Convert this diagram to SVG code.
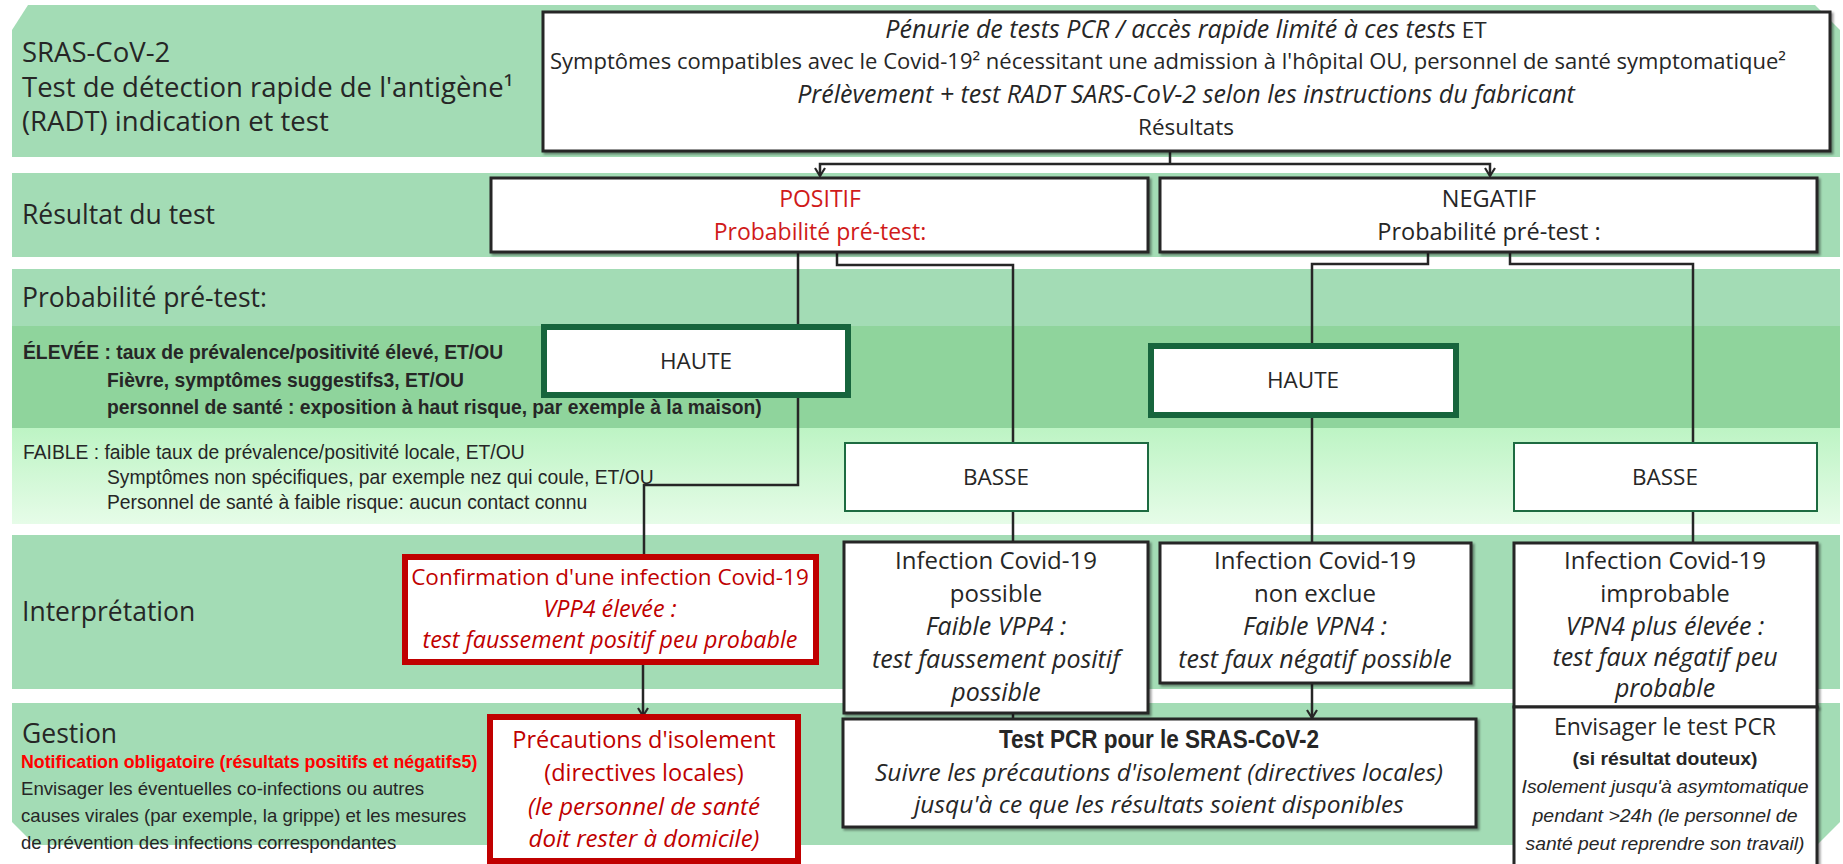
<svg xmlns="http://www.w3.org/2000/svg" width="1843" height="864" viewBox="0 0 1843 864">
<style>
.band{fill:#a3dcb5}
.lbl{font-family:"Open Sans",sans-serif;font-size:26.5px;fill:#262626}
.t{font-family:"Open Sans",sans-serif;font-size:22.5px;fill:#262626;text-anchor:middle}
.b24{font-size:24px}
.i25{font-size:25px}
.it{font-style:italic}
.red{fill:#c00000}
.box{fill:#fff;stroke:#262626;stroke-width:3;filter:url(#sh)}
.haute{fill:#fff;stroke:#17653d;stroke-width:6}
.basse{fill:#fff;stroke:#1d6b41;stroke-width:2}
.rbox{fill:#fff;stroke:#c00000;stroke-width:6}
.ar{font-family:"Liberation Sans",Arial,sans-serif;fill:#262626}
.conn path{fill:none;stroke:#262626;stroke-width:2.5}
</style>
<defs>
<filter id="sh" x="-5%" y="-5%" width="110%" height="115%">
<feDropShadow dx="2" dy="2" stdDeviation="1" flood-color="#000" flood-opacity="0.4"/>
</filter>
<linearGradient id="gf" x1="0" y1="0" x2="0" y2="1">
<stop offset="0" stop-color="#bdf4c4"/>
<stop offset="1" stop-color="#e6fce8"/>
</linearGradient>
<marker id="arr" markerWidth="14" markerHeight="14" refX="9" refY="6" orient="auto" markerUnits="userSpaceOnUse">
<path d="M1,1 L9,6 L1,11" fill="none" stroke="#262626" stroke-width="2.2"/>
</marker>
</defs>

<g id="bands">
<polygon class="band" points="12,30 28,5 1815,5 1840,30 1840,157 12,157"/>
<rect class="band" x="12" y="173" width="1828" height="84"/>
<rect class="band" x="12" y="269" width="1828" height="57"/>
<rect x="12" y="326" width="1828" height="102" fill="#8fd49c"/>
<rect x="12" y="428" width="1828" height="96" fill="url(#gf)"/>
<rect class="band" x="12" y="535" width="1828" height="154"/>
<polygon class="band" points="12,703 1840,703 1840,822 1817,845 35,845 12,822"/>
</g>

<g id="labels">
<text class="lbl" x="22" y="62" style="font-size:27.5px">SRAS-CoV-2</text>
<text class="lbl" x="22" y="97" style="font-size:27.5px">Test de détection rapide de l'antigène¹</text>
<text class="lbl" x="22" y="131" style="font-size:27.5px">(RADT) indication et test</text>
<text class="lbl" x="22" y="224">Résultat du test</text>
<text class="lbl" x="22" y="307">Probabilité pré-test:</text>
<text class="ar" x="23" y="359" font-size="19.3" font-weight="bold">ÉLEVÉE : taux de prévalence/positivité élevé, ET/OU</text>
<text class="ar" x="107" y="387" font-size="19.3" font-weight="bold">Fièvre, symptômes suggestifs3, ET/OU</text>
<text class="ar" x="107" y="414" font-size="19.3" font-weight="bold">personnel de santé : exposition à haut risque, par exemple à la maison)</text>
<text class="ar" x="23" y="459" font-size="19.3">FAIBLE : faible taux de prévalence/positivité locale, ET/OU</text>
<text class="ar" x="107" y="484" font-size="19.3">Symptômes non spécifiques, par exemple nez qui coule, ET/OU</text>
<text class="ar" x="107" y="509" font-size="19.3">Personnel de santé à faible risque: aucun contact connu</text>
<text class="lbl" x="22" y="621">Interprétation</text>
<text class="lbl" x="22" y="743">Gestion</text>
<text class="ar" x="21" y="768" font-size="17.8" font-weight="bold" style="fill:#ff0000">Notification obligatoire (résultats positifs et négatifs5)</text>
<text class="ar" x="21" y="795" font-size="18.6">Envisager les éventuelles co-infections ou autres</text>
<text class="ar" x="21" y="822" font-size="18.6">causes virales (par exemple, la grippe) et les mesures</text>
<text class="ar" x="21" y="849" font-size="18.6">de prévention des infections correspondantes</text>
</g>

<g class="conn" id="connectors">
<path d="M1170,151 V164"/>
<path d="M1170,164 H820 V176" marker-end="url(#arr)"/>
<path d="M1170,164 H1490 V176" marker-end="url(#arr)"/>
<path d="M798,252 V485 H644 V557"/>
<path d="M837,252 V265 H1013 V542"/>
<path d="M1013,713 V719"/>
<path d="M1428,252 V264 H1312 V543"/>
<path d="M1510,252 V264 H1693 V543"/>
<path d="M643,662 V716" marker-end="url(#arr)"/>
<path d="M1312,683 V718" marker-end="url(#arr)"/>
</g>

<g id="n-top">
<rect class="box" x="543" y="12" width="1287" height="139"/>
<text class="t" x="1186" y="38"><tspan class="it i25">Pénurie de tests PCR / accès rapide limité à ces tests</tspan> ET</text>
<text class="t" x="550" y="69" style="font-size:22px;text-anchor:start">Symptômes compatibles avec le Covid-19² nécessitant une admission à l'hôpital OU, personnel de santé symptomatique²</text>
<text class="t it i25" x="1186" y="103">Prélèvement + test RADT SARS-CoV-2 selon les instructions du fabricant</text>
<text class="t" x="1186" y="135">Résultats</text>
</g>

<g id="n-positif">
<rect class="box" x="491" y="178" width="657" height="74"/>
<text class="t" x="820" y="207" style="fill:#d01a1a;font-size:23px">POSITIF</text>
<text class="t" x="820" y="240" style="fill:#d01a1a;font-size:23px">Probabilité pré-test:</text>
</g>

<g id="n-negatif">
<rect class="box" x="1160" y="178" width="657" height="74"/>
<text class="t" x="1489" y="207" style="font-size:23.5px">NEGATIF</text>
<text class="t" x="1489" y="240" style="font-size:23.5px">Probabilité pré-test :</text>
</g>

<g id="n-haute1">
<rect class="haute" x="544" y="327" width="304" height="68"/>
<text class="t" x="696" y="369">HAUTE</text>
</g>

<g id="n-basse1">
<rect class="basse" x="845" y="443" width="303" height="68"/>
<text class="t" x="996" y="485">BASSE</text>
</g>

<g id="n-haute2">
<rect class="haute" x="1151" y="346" width="305" height="69"/>
<text class="t" x="1303" y="388">HAUTE</text>
</g>

<g id="n-basse2">
<rect class="basse" x="1514" y="443" width="303" height="68"/>
<text class="t" x="1665" y="485">BASSE</text>
</g>

<g id="n-confirmation">
<rect class="rbox" x="405" y="557" width="411" height="105"/>
<text class="t red" x="610" y="585">Confirmation d'une infection Covid-19</text>
<text class="t red it" x="610" y="617" style="font-size:23.3px">VPP4 élevée :</text>
<text class="t red it" x="610" y="648" style="font-size:23.3px">test faussement positif peu probable</text>
</g>

<g id="n-possible">
<rect class="box" x="844" y="542" width="304" height="171"/>
<text class="t b24" x="996" y="569">Infection Covid-19</text>
<text class="t b24" x="996" y="602">possible</text>
<text class="t it i25" x="996" y="635">Faible VPP4 :</text>
<text class="t it i25" x="996" y="668">test faussement positif</text>
<text class="t it i25" x="996" y="701">possible</text>
</g>

<g id="n-nonexclue">
<rect class="box" x="1160" y="543" width="311" height="140"/>
<text class="t b24" x="1315" y="569">Infection Covid-19</text>
<text class="t b24" x="1315" y="602">non exclue</text>
<text class="t it i25" x="1315" y="635">Faible VPN4 :</text>
<text class="t it i25" x="1315" y="668">test faux négatif possible</text>
</g>

<g id="n-improbable">
<rect class="box" x="1514" y="543" width="303" height="164"/>
<text class="t b24" x="1665" y="569">Infection Covid-19</text>
<text class="t b24" x="1665" y="602">improbable</text>
<text class="t it i25" x="1665" y="635">VPN4 plus élevée :</text>
<text class="t it i25" x="1665" y="666">test faux négatif peu</text>
<text class="t it i25" x="1665" y="697">probable</text>
</g>

<g id="n-precautions">
<rect class="rbox" x="490" y="717" width="308" height="144"/>
<text class="t red" x="644" y="748" style="font-size:23.5px">Précautions d'isolement</text>
<text class="t red" x="644" y="781" style="font-size:23.5px">(directives locales)</text>
<text class="t red it" x="644" y="815" style="font-size:24px">(le personnel de santé</text>
<text class="t red it" x="644" y="847" style="font-size:24px">doit rester à domicile)</text>
</g>

<g id="n-pcr">
<rect class="box" x="843" y="719" width="633" height="108"/>
<text class="ar" x="1159" y="748" font-size="25" font-weight="bold" text-anchor="middle" textLength="320" lengthAdjust="spacingAndGlyphs">Test PCR pour le SRAS-CoV-2</text>
<text class="t it" x="1159" y="781" style="font-size:24.5px">Suivre les précautions d'isolement (directives locales)</text>
<text class="t it" x="1159" y="813" style="font-size:24.5px">jusqu'à ce que les résultats soient disponibles</text>
</g>

<g id="n-envisager">
<rect class="box" x="1514" y="707" width="303" height="162"/>
<text class="t" x="1665" y="735" style="font-size:23px">Envisager le test PCR</text>
<text class="ar" x="1665" y="765" font-size="19" font-weight="bold" text-anchor="middle" textLength="185" lengthAdjust="spacingAndGlyphs">(si résultat douteux)</text>
<text class="ar" x="1665" y="793" font-size="19" font-style="italic" text-anchor="middle" textLength="287" lengthAdjust="spacingAndGlyphs">Isolement jusqu'à asymtomatique</text>
<text class="ar" x="1665" y="822" font-size="19" font-style="italic" text-anchor="middle" textLength="265" lengthAdjust="spacingAndGlyphs">pendant &gt;24h (le personnel de</text>
<text class="ar" x="1665" y="850" font-size="19" font-style="italic" text-anchor="middle" textLength="279" lengthAdjust="spacingAndGlyphs">santé peut reprendre son travail)</text>
</g>
</svg>
